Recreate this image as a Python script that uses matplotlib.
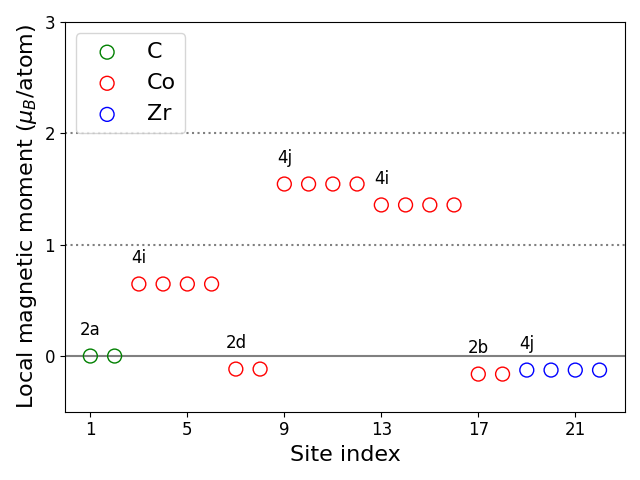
import numpy as np
import matplotlib
matplotlib.use("Agg")
import matplotlib.pyplot as plt

# site indices and local moments (mu_B/atom)
c_sites = [1, 2]
c_moments = [0.0, 0.0]

co_sites = [3, 4, 5, 6, 7, 8, 9, 10, 11, 12, 13, 14, 15, 16, 17, 18]
co_moments = [0.647, 0.647, 0.647, 0.647,
              -0.117, -0.117,
              1.545, 1.545, 1.545, 1.545,
              1.357, 1.357, 1.357, 1.357,
              -0.162, -0.162]

zr_sites = [19, 20, 21, 22]
zr_moments = [-0.126, -0.126, -0.126, -0.126]

# Wyckoff labels: (first site of group, moment of group, label)
wyckoff_x = [1, 3, 7, 9, 13, 17, 19]
wyckoff_y = [0.0, 0.647, -0.117, 1.545, 1.357, -0.162, -0.126]
wyckoff_lbl = ['2a', '4i', '2d', '4j', '4i', '2b', '4j']

fig, ax = plt.subplots(figsize=(6.4, 4.8), dpi=100)

ax.axhline(0, color='grey', lw=1.5, zorder=0)
ax.axhline(1, color='grey', lw=1.5, ls=':', zorder=0)
ax.axhline(2, color='grey', lw=1.5, ls=':', zorder=0)

ax.scatter(c_sites, c_moments, s=100, facecolors='none', edgecolors='green', label='C')
ax.scatter(co_sites, co_moments, s=100, facecolors='none', edgecolors='red', label='Co')
ax.scatter(zr_sites, zr_moments, s=100, facecolors='none', edgecolors='blue', label='Zr')

for xx, yy, lbl in zip(wyckoff_x, wyckoff_y, wyckoff_lbl):
    ax.text(xx, yy + 0.19, lbl, fontsize=12, ha='center', va='baseline')

ax.set_ylim(-0.5, 3)
ax.set_yticks([0, 1, 2, 3])
ax.set_xticks([1, 5, 9, 13, 17, 21])
ax.tick_params(labelsize=12)
ax.set_xlabel('Site index', fontsize=16)
ax.set_ylabel(r'Local magnetic moment ($\mu_B$/atom)', fontsize=16)
ax.legend(loc='upper left', fontsize=16)

plt.tight_layout()
plt.savefig('out.png')
